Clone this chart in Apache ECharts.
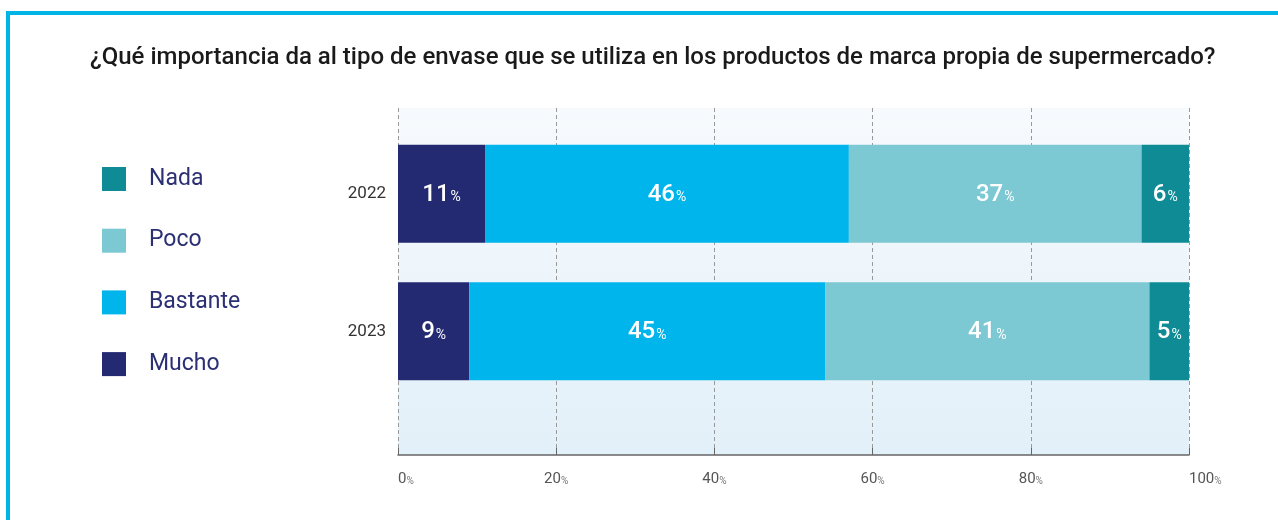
<!DOCTYPE html>
<html>
<head>
<meta charset="utf-8">
<script src="https://cdn.jsdelivr.net/npm/echarts@6/dist/echarts.min.js"></script>
<style>
html,body{margin:0;padding:0;background:#fff;}
#chart{width:1278px;height:520px;}
</style>
</head>
<body>
<div id="chart"></div>
<script>
const titleText = '¿Qué importancia da al tipo de envase que se utiliza en los productos de marca propia de supermercado?';
const years = ['2022', '2023'];
const mucho = [11, 9];
const bastante = [46, 45];
const poco = [37, 41];
const nada = [6, 5];
const xTicks = [0, 20, 40, 60, 80, 100];
const legendOrder = ['Nada', 'Poco', 'Bastante', 'Mucho'];

const colors = { Mucho: '#232a72', Bastante: '#00b5eb', Poco: '#7cc8d3', Nada: '#0e8b94' };
const FONT = 'Roboto, "Noto Sans", sans-serif';

const chart = echarts.init(document.getElementById('chart'), null, { renderer: 'canvas' });

function barSeries(name, values) {
  return {
    name: name,
    type: 'bar',
    stack: 'total',
    xAxisIndex: 1,
    yAxisIndex: 1,
    barWidth: 98,
    data: values,
    itemStyle: { color: colors[name] },
    label: {
      show: true,
      position: 'inside',
      formatter: p => '{n|' + p.value + '}{p|%}',
      rich: {
        n: { fontSize: 24, color: '#fff', fontWeight: 500, fontFamily: FONT, verticalAlign: 'bottom', lineHeight: 26 },
        p: { fontSize: 14, color: '#fff', fontFamily: FONT, verticalAlign: 'bottom', lineHeight: 26, padding: [0, 0, 2, 1] }
      }
    },
    emphasis: { disabled: true }
  };
}

const option = {
  animation: false,
  graphic: [
    {
      type: 'rect',
      shape: { x: 8, y: 13, width: 1400, height: 600 },
      style: { fill: 'none', stroke: '#00b4e6', lineWidth: 4 },
      silent: true
    }
  ],
  title: {
    text: titleText,
    left: 85,
    top: 41,
    textStyle: { fontSize: 24, fontWeight: 500, color: '#1a1a1a', fontFamily: FONT }
  },
  legend: {
    data: legendOrder,
    orient: 'vertical',
    left: 97,
    top: 162,
    itemWidth: 24,
    itemHeight: 24,
    itemGap: 37.7,
    selectedMode: false,
    icon: 'rect',
    textStyle: { fontSize: 23, color: '#2b2f74', fontFamily: FONT, padding: [0, 0, 0, 18] }
  },
  grid: [
    {
      left: 398, right: 89, top: 108, bottom: 65,
      show: true,
      borderWidth: 0,
      backgroundColor: new echarts.graphic.LinearGradient(0, 0, 0, 1, [
        { offset: 0, color: '#f7fafd' },
        { offset: 1, color: '#e2f0f9' }
      ])
    },
    { left: 398, right: 89, top: 125, bottom: 120 }
  ],
  xAxis: [
    {
      gridIndex: 0,
      type: 'value',
      min: 0, max: 100, interval: 20,
      axisLine: { show: true, lineStyle: { color: '#666', width: 1.5 } },
      axisTick: { show: true, inside: true, length: 7, lineStyle: { color: '#666' } },
      splitLine: { show: true, lineStyle: { color: '#999', type: [4, 3], width: 1 } },
      axisLabel: {
        margin: 14,
        alignMinLabel: 'left',
        alignMaxLabel: 'left',
        formatter: v => xTicks.includes(v) ? '{n|' + v + '}{p|%}' : '',
        rich: {
          n: { fontSize: 15, color: '#555', fontFamily: FONT, verticalAlign: 'bottom', lineHeight: 18 },
          p: { fontSize: 10, color: '#777', fontFamily: FONT, verticalAlign: 'bottom', lineHeight: 18, padding: [0, 0, 1, 0] }
        }
      }
    },
    {
      gridIndex: 1,
      type: 'value',
      min: 0, max: 100,
      show: false
    }
  ],
  yAxis: [
    { gridIndex: 0, type: 'value', min: 0, max: 1, show: false },
    {
      gridIndex: 1,
      type: 'category',
      inverse: true,
      data: years,
      axisLine: { show: false },
      axisTick: { show: false },
      axisLabel: { margin: 12, fontSize: 17, color: '#333', fontFamily: FONT }
    }
  ],
  series: [
    barSeries('Mucho', mucho),
    barSeries('Bastante', bastante),
    barSeries('Poco', poco),
    barSeries('Nada', nada)
  ]
};
chart.setOption(option);
</script>
</body>
</html>
